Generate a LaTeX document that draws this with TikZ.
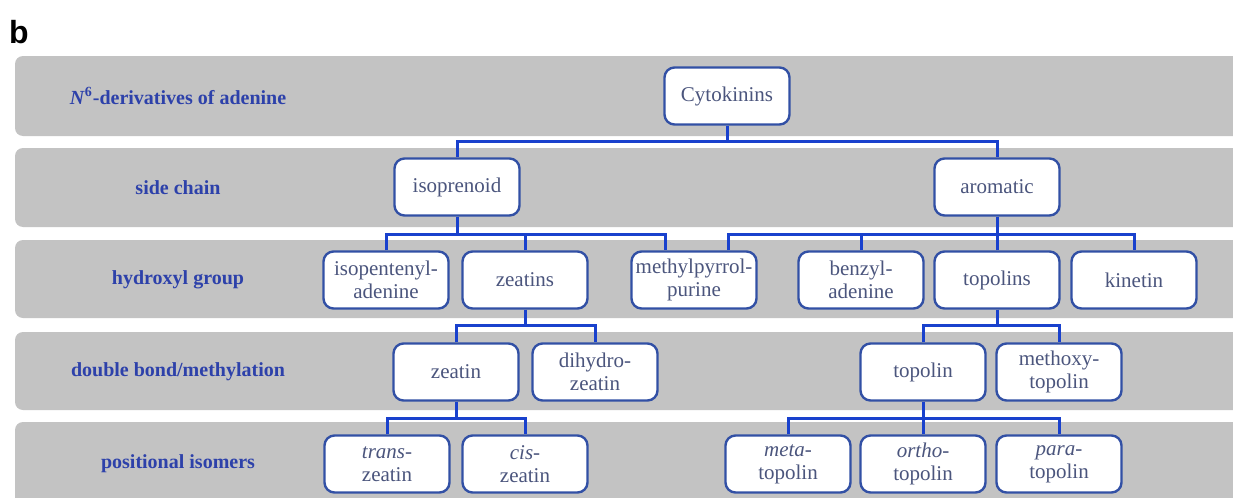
\documentclass[tikz,border=0pt]{standalone}
\usepackage{fontspec}
\setmainfont{Liberation Serif}
\newfontfamily\panelfont{Liberation Sans}
\usetikzlibrary{positioning, calc}
\definecolor{bandgray}{RGB}{195, 195, 195}
\definecolor{boxblue}{RGB}{50, 80, 165}
\definecolor{linkblue}{RGB}{25, 65, 205}
\definecolor{labelblue}{RGB}{45, 65, 170}
\definecolor{textslate}{RGB}{75, 85, 125}

\begin{document}
\begin{tikzpicture}[
    x=0.5pt, y=-0.5pt,
    band/.style={fill=bandgray, rounded corners=4pt},
    level/.style={font=\fontsize{10}{12}\selectfont\bfseries, text=labelblue},
    cell/.style={rectangle, rounded corners=5pt, draw=boxblue, line width=1.2pt, fill=white, minimum width=62.5pt, minimum height=28.5pt, align=center, inner sep=1pt, text=textslate, font=\fontsize{10.5}{11.5}\selectfont},
    link/.style={linkblue, line width=1.5pt}
]
    \useasboundingbox (0,0) rectangle (1233,498);
    \clip (0,0) rectangle (1233,498);

    % Bands
    \fill[band] (15,56) rectangle (1260,136);
    \fill[band] (15,148) rectangle (1260,227);
    \fill[band] (15,240) rectangle (1260,318);
    \fill[band] (15,332) rectangle (1260,410);
    \fill[band] (15,422) rectangle (1260,520);

    \node[font=\panelfont\fontsize{16}{18}\selectfont\bfseries] (tag) at (19,32) {b};

    % Level names
    \node[level] (lv1) at (178,96) {\textit{N}\textsuperscript{6}-derivatives of adenine};
    \node[level] (lv2) at (178,188) {side chain};
    \node[level] (lv3) at (178,280) {hydroxyl group};
    \node[level] (lv4) at (178,372) {double bond/methylation};
    \node[level] (lv5) at (178,464) {positional isomers};

    % Tree
    \node[cell] (cyto) at (727,96) {Cytokinins};

    \node[cell] (iso) at (457,187) {isoprenoid};
    \node[cell] (aro) at (997,187) {aromatic};

    \node[cell] (ipa) at (386,280) {isopentenyl-\\adenine};
    \node[cell] (zeatins) at (525,280) {zeatins};
    \node[cell] (mpp) at (694,280) {methylpyrrol-\\purine};
    \node[cell] (bap) at (861,280) {benzyl-\\adenine};
    \node[cell] (topolins) at (997,280) {topolins};
    \node[cell] (kin) at (1134,280) {kinetin};

    \node[cell] (zeatin) at (456,372) {zeatin};
    \node[cell] (dhz) at (595,372) {dihydro-\\zeatin};
    \node[cell] (topolin) at (923,372) {topolin};
    \node[cell] (mtop) at (1059,372) {methoxy-\\topolin};

    \node[cell] (tz) at (387,464) {\textit{trans}-\\zeatin};
    \node[cell] (cz) at (525,464) {\textit{cis}-\\zeatin};
    \node[cell] (metatop) at (788,464) {\textit{meta}-\\topolin};
    \node[cell] (orthotop) at (923,464) {\textit{ortho}-\\topolin};
    \node[cell] (paratop) at (1059,464) {\textit{para}-\\topolin};

    % Connectors
    \coordinate (bus1) at (0,141);
    \coordinate (bus2) at (0,234);
    \coordinate (bus3) at (0,325);
    \coordinate (bus4) at (0,418);
    \coordinate (mppL) at ($(mpp.north)+(-29,0)$);
    \coordinate (mppR) at ($(mpp.north)+(34,0)$);

    \draw[link] (cyto.south) -- (cyto.south |- bus1);
    \draw[link] (iso.north) |- (aro.north |- bus1) -- (aro.north);

    \draw[link] (iso.south) -- (iso.south |- bus2);
    \draw[link] (ipa.north) |- (mppL |- bus2) -- (mppL);
    \draw[link] (zeatins.north) -- (zeatins.north |- bus2);

    \draw[link] (aro.south) -- (aro.south |- bus2);
    \draw[link] (mppR) |- (kin.north |- bus2) -- (kin.north);
    \draw[link] (bap.north) -- (bap.north |- bus2);
    \draw[link] (topolins.north) -- (topolins.north |- bus2);

    \draw[link] (zeatins.south) -- (zeatins.south |- bus3);
    \draw[link] (zeatin.north) |- (dhz.north |- bus3) -- (dhz.north);
    \draw[link] (topolins.south) -- (topolins.south |- bus3);
    \draw[link] (topolin.north) |- (mtop.north |- bus3) -- (mtop.north);

    \draw[link] (zeatin.south) -- (zeatin.south |- bus4);
    \draw[link] (tz.north) |- (cz.north |- bus4) -- (cz.north);
    \draw[link] (topolin.south) -- (topolin.south |- bus4);
    \draw[link] (metatop.north) |- (paratop.north |- bus4) -- (paratop.north);
    \draw[link] (orthotop.north) -- (orthotop.north |- bus4);
\end{tikzpicture}
\end{document}
